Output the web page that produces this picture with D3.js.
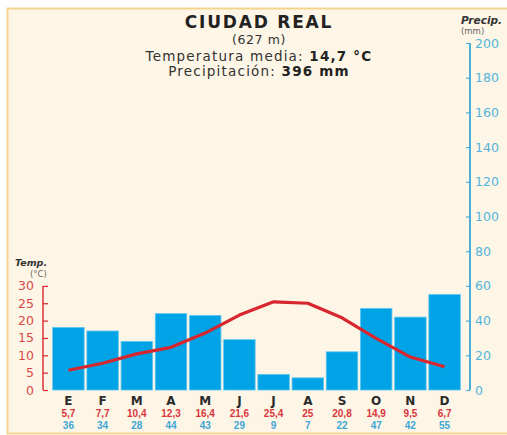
<!DOCTYPE html>
<html>
<head>
<meta charset="utf-8">
<script src="https://cdn.jsdelivr.net/npm/d3@7"></script>
<style>
  html, body { margin: 0; padding: 0; background: #ffffff; }
  svg { display: block; font-family: 'DejaVu Sans', sans-serif; }
</style>
</head>
<body>
<div class="container"></div>
<script>
const months = ['E', 'F', 'M', 'A', 'M', 'J', 'J', 'A', 'S', 'O', 'N', 'D'];
const temps = [5.7, 7.7, 10.4, 12.3, 16.4, 21.6, 25.4, 25, 20.8, 14.9, 9.5, 6.7];
const tempLabels = ['5,7', '7,7', '10,4', '12,3', '16,4', '21,6', '25,4', '25', '20,8', '14,9', '9,5', '6,7'];
const precip = [36, 34, 28, 44, 43, 29, 9, 7, 22, 47, 42, 55];
const tempTicks = [0, 5, 10, 15, 20, 25, 30];
const precipTicks = [0, 20, 40, 60, 80, 100, 120, 140, 160, 180, 200];

const width = 507;
const height = 435;
const red = '#d8262f';
const blue = '#00a3e6';
const axisBlue = '#4aaed6';

const svg = d3
  .select('.container')
  .append('svg')
  .attr('width', width)
  .attr('height', height);

// Frame
svg.append('rect')
  .attr('x', 7.5).attr('y', 8.5)
  .attr('width', 520).attr('height', 425)
  .attr('fill', '#fdf5e5')
  .attr('stroke', '#f3d48e')
  .attr('stroke-width', 2);

// Scales
const x = d3.scaleBand()
  .domain(d3.range(months.length))
  .range([52, 461])
  .paddingInner(0.08)
  .paddingOuter(0.02);

const yP = d3.scaleLinear().domain([0, 200]).range([390, 43]);
const yT = d3.scaleLinear().domain([0, 100]).range([390, 43]);

// Bars
svg.append('g')
  .selectAll('rect')
  .data(precip)
  .enter()
  .append('rect')
  .attr('x', (d, i) => x(i))
  .attr('y', (d) => yP(d))
  .attr('width', x.bandwidth())
  .attr('height', (d) => yP(0) - yP(d))
  .attr('fill', blue)
  .attr('stroke', '#5cc4ef')
  .attr('stroke-width', 0.8);

// Temperature line
const line = d3.line()
  .x((d, i) => x(i) + x.bandwidth() / 2)
  .y((d) => yT(d));

svg.append('path')
  .datum(temps)
  .attr('d', line)
  .attr('fill', 'none')
  .attr('stroke', red)
  .attr('stroke-width', 3.2)
  .attr('stroke-linejoin', 'round');

// Left axis (temperature)
const axisL = svg.append('g')
  .attr('transform', 'translate(43,0)')
  .call(d3.axisRight(yT).tickValues(tempTicks).tickSize(5).tickFormat(''));
axisL.select('.domain').remove();
axisL.selectAll('line').attr('stroke', red).attr('stroke-width', 1.2);
axisL.append('line')
  .attr('x1', 0).attr('x2', 0)
  .attr('y1', yT(30)).attr('y2', yT(0))
  .attr('stroke', red).attr('stroke-width', 1.4);

svg.append('g')
  .selectAll('text')
  .data(tempTicks)
  .enter()
  .append('text')
  .attr('x', 34)
  .attr('y', (d) => yT(d) + 4.5)
  .attr('text-anchor', 'end')
  .attr('fill', '#d84a4a')
  .style('font-size', '12.5px')
  .text((d) => d);

// Right axis (precipitation)
const axisR = svg.append('g')
  .attr('transform', 'translate(470,0)')
  .call(d3.axisLeft(yP).tickValues(precipTicks).tickSize(4).tickFormat(''));
axisR.select('.domain').remove();
axisR.selectAll('line').attr('stroke', axisBlue).attr('stroke-width', 1.2);
axisR.append('line')
  .attr('x1', 0).attr('x2', 0)
  .attr('y1', yP(200)).attr('y2', yP(0))
  .attr('stroke', axisBlue).attr('stroke-width', 2);

svg.append('g')
  .selectAll('text')
  .data(precipTicks)
  .enter()
  .append('text')
  .attr('x', 475)
  .attr('y', (d) => yP(d) + 4.5)
  .attr('fill', '#52b4dc')
  .style('font-size', '12.5px')
  .text((d) => d);

// Month labels
svg.append('g')
  .selectAll('text')
  .data(months)
  .enter()
  .append('text')
  .attr('x', (d, i) => x(i) + x.bandwidth() / 2)
  .attr('y', 405)
  .attr('text-anchor', 'middle')
  .attr('fill', '#2b2b2b')
  .style('font-size', '12px')
  .style('font-weight', 'bold')
  .text((d) => d);

svg.append('g')
  .selectAll('text')
  .data(tempLabels)
  .enter()
  .append('text')
  .attr('x', (d, i) => x(i) + x.bandwidth() / 2)
  .attr('y', 417)
  .attr('text-anchor', 'middle')
  .attr('fill', '#d8363c')
  .style('font-family', "'Liberation Sans', Arial, sans-serif")
  .style('font-size', '10px')
  .style('font-weight', 'bold')
  .text((d) => d);

svg.append('g')
  .selectAll('text')
  .data(precip)
  .enter()
  .append('text')
  .attr('x', (d, i) => x(i) + x.bandwidth() / 2)
  .attr('y', 429)
  .attr('text-anchor', 'middle')
  .attr('fill', '#3fa6d6')
  .style('font-family', "'Liberation Sans', Arial, sans-serif")
  .style('font-size', '10px')
  .style('font-weight', 'bold')
  .text((d) => d);

// Titles
const cx = 259;
svg.append('text')
  .attr('x', cx).attr('y', 28)
  .attr('text-anchor', 'middle')
  .attr('fill', '#222')
  .style('font-size', '17px')
  .style('font-weight', 'bold')
  .style('letter-spacing', '1.8px')
  .text('CIUDAD REAL');

svg.append('text')
  .attr('x', cx).attr('y', 43.5)
  .attr('text-anchor', 'middle')
  .attr('fill', '#333')
  .style('font-size', '12.5px')
  .style('letter-spacing', '0.6px')
  .text('(627 m)');

const t1 = svg.append('text')
  .attr('x', cx).attr('y', 60.5)
  .attr('text-anchor', 'middle')
  .attr('fill', '#333')
  .style('font-size', '13.5px')
  .style('letter-spacing', '1.2px');
t1.append('tspan').text('Temperatura media: ');
t1.append('tspan').style('font-weight', 'bold').attr('fill', '#222').text('14,7 °C');

const t2 = svg.append('text')
  .attr('x', cx).attr('y', 76)
  .attr('text-anchor', 'middle')
  .attr('fill', '#333')
  .style('font-size', '13.5px')
  .style('letter-spacing', '1.2px');
t2.append('tspan').text('Precipitación: ');
t2.append('tspan').style('font-weight', 'bold').attr('fill', '#222').text('396 mm');

// Axis titles
svg.append('text')
  .attr('x', 461).attr('y', 24)
  .attr('fill', '#333')
  .style('font-size', '10.5px')
  .style('font-weight', 'bold')
  .style('font-style', 'italic')
  .text('Precip.');
svg.append('text')
  .attr('x', 461).attr('y', 34)
  .attr('fill', '#666')
  .style('font-size', '8.5px')
  .text('(mm)');

svg.append('text')
  .attr('x', 15).attr('y', 266)
  .attr('fill', '#333')
  .style('font-size', '9.5px')
  .style('font-weight', 'bold')
  .style('font-style', 'italic')
  .text('Temp.');
svg.append('text')
  .attr('x', 30).attr('y', 277)
  .attr('fill', '#666')
  .style('font-size', '8.5px')
  .text('(°C)');
</script>
</body>
</html>
